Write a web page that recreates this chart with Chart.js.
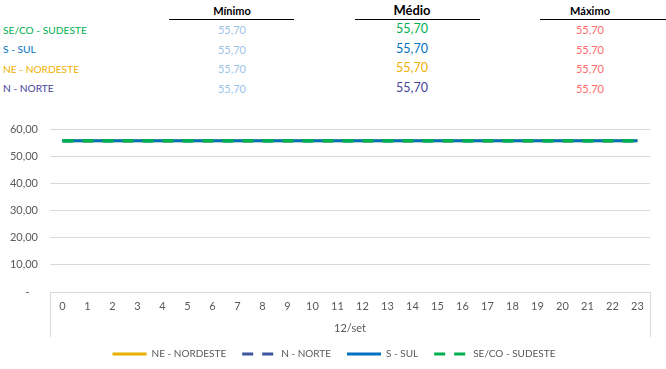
<!DOCTYPE html>
<html>
<head>
<meta charset="utf-8">
<script src="https://cdn.jsdelivr.net/npm/chart.js@4.4.1/dist/chart.umd.min.js"></script>
<style>
  body { margin: 0; background: #fff; font-family: Lato, sans-serif; }
  #page { position: relative; width: 666px; height: 369px; overflow: hidden; }
  .t { position: absolute; white-space: nowrap; line-height: 1; }
  .head { font-weight: bold; color: #000; text-align: center; }
  .rule { position: absolute; height: 1px; background: #000; }
  .num { text-align: center; }
  #box { position: absolute; left: 0; top: 100px; width: 666px; height: 269px; }
</style>
</head>
<body>
<div id="page">
  <div id="table"></div>
  <div id="box"><canvas id="chart"></canvas></div>
</div>
<script>
// table rows (top block)
const rowNames = ["SE/CO - SUDESTE", "S - SUL", "NE - NORDESTE", "N - NORTE"];
const rowColors = ["#00B050", "#0070C0", "#F0B000", "#44449A"];
const minValues = ["55,70", "55,70", "55,70", "55,70"];
const avgValues = ["55,70", "55,70", "55,70", "55,70"];
const maxValues = ["55,70", "55,70", "55,70", "55,70"];

// chart data
const hours = ["0","1","2","3","4","5","6","7","8","9","10","11","12","13","14","15","16","17","18","19","20","21","22","23"];
const dayLabel = "12/set";
const neValues = [55.70,55.70,55.70,55.70,55.70,55.70,55.70,55.70,55.70,55.70,55.70,55.70,55.70,55.70,55.70,55.70,55.70,55.70,55.70,55.70,55.70,55.70,55.70,55.70];
const nValues  = [55.70,55.70,55.70,55.70,55.70,55.70,55.70,55.70,55.70,55.70,55.70,55.70,55.70,55.70,55.70,55.70,55.70,55.70,55.70,55.70,55.70,55.70,55.70,55.70];
const sValues  = [55.70,55.70,55.70,55.70,55.70,55.70,55.70,55.70,55.70,55.70,55.70,55.70,55.70,55.70,55.70,55.70,55.70,55.70,55.70,55.70,55.70,55.70,55.70,55.70];
const seValues = [55.70,55.70,55.70,55.70,55.70,55.70,55.70,55.70,55.70,55.70,55.70,55.70,55.70,55.70,55.70,55.70,55.70,55.70,55.70,55.70,55.70,55.70,55.70,55.70];

// build the table with plain divs
const table = document.getElementById("table");
function addText(txt, x, y, css, cls) {
    const d = document.createElement("div");
    d.className = "t " + (cls || "");
    d.textContent = txt;
    d.style.cssText += css;
    d.style.left = x + "px";
    d.style.top = y + "px";
    table.appendChild(d);
    return d;
}
function addRule(x1, x2, y) {
    const r = document.createElement("div");
    r.className = "rule";
    r.style.left = x1 + "px";
    r.style.width = (x2 - x1) + "px";
    r.style.top = y + "px";
    table.appendChild(r);
}

// columns: center x, rule start/end, header size, value size, value color
const cols = [
    { title: "Mínimo", cx: 232, x1: 169, x2: 294, hs: 11, hy: 10, vs: 11, vals: minValues, color: () => "#9DC3E6" },
    { title: "Médio",  cx: 412, x1: 355, x2: 480, hs: 13, hy: 10, vs: 12.5, vals: avgValues, color: i => rowColors[i] },
    { title: "Máximo", cx: 590, x1: 540, x2: 666, hs: 11, hy: 10, vs: 11, vals: maxValues, color: () => "#FF6B6B" }
];
const rowY = [29.5, 49, 68.5, 88];

cols.forEach(c => {
    addText(c.title, c.cx - 60, c.hy - c.hs / 2, "width:120px;font-size:" + c.hs + "px;", "head");
    addRule(c.x1, c.x2, 19);
    c.vals.forEach((v, i) => {
        addText(v, c.cx - 40, rowY[i] - c.vs / 2, "width:80px;font-size:" + c.vs + "px;color:" + c.color(i) + ";", "num");
    });
});
rowNames.forEach((n, i) => {
    addText(n, 3, rowY[i] - 5, "font-size:10.2px;color:" + rowColors[i] + ";");
});

// the Excel legend sits a bit right of the canvas centre
const nudgeLegend = {
    id: "nudgeLegend",
    afterLayout(chart) {
        chart.legend.left += 9;
        chart.legend.right += 9;
    }
};

const ctx = document.getElementById("chart").getContext("2d");

new Chart(ctx, {
    type: "line",
    data: {
        labels: hours,
        datasets: [
            { label: "NE - NORDESTE", data: neValues, borderColor: "#E8B000", backgroundColor: "#E8B000", borderWidth: 3, order: 4 },
            { label: "N - NORTE", data: nValues, borderColor: "#3F55A0", backgroundColor: "#3F55A0", borderWidth: 3, borderDash: [11, 9], order: 3 },
            { label: "S - SUL", data: sValues, borderColor: "#0070C0", backgroundColor: "#0070C0", borderWidth: 3, order: 2 },
            { label: "SE/CO - SUDESTE", data: seValues, borderColor: "#00B050", backgroundColor: "#00B050", borderWidth: 3.5, borderDash: [11, 9], order: 1 }
        ]
    },
    plugins: [nudgeLegend],
    options: {
        animation: false,
        responsive: true,
        maintainAspectRatio: false,
        elements: { point: { radius: 0 }, line: { tension: 0 } },
        layout: { padding: { top: 29, right: 16, left: 0, bottom: 0 } },
        plugins: {
            tooltip: { enabled: false },
            legend: {
                position: "bottom",
                labels: {
                    usePointStyle: true,
                    pointStyle: "line",
                    pointStyleWidth: 34,
                    boxWidth: 34,
                    padding: 16,
                    color: "#595959",
                    font: { family: "Lato", size: 10 },
                    // keep dataset order and the dashes of each line
                    generateLabels: chart => {
                        const items = Chart.defaults.plugins.legend.labels.generateLabels(chart);
                        items.forEach(it => {
                            const ds = chart.data.datasets[it.datasetIndex];
                            it.lineDash = ds.borderDash || [];
                            it.lineWidth = 3;
                            it.strokeStyle = ds.borderColor;
                        });
                        return items.sort((a, b) => a.datasetIndex - b.datasetIndex);
                    }
                }
            }
        },
        scales: {
            x: {
                offset: true,
                border: { color: "#D9D9D9" },
                grid: {
                    offset: true,
                    drawOnChartArea: false,
                    tickLength: 45,
                    color: c => (c.type === "scale" || c.index === 0) ? "#D9D9D9" : "rgba(0,0,0,0)"
                },
                ticks: { color: "#595959", padding: -37, maxRotation: 0, autoSkip: false, font: { family: "Lato", size: 11 } },
                title: { display: true, text: dayLabel, color: "#595959", padding: { top: 0, bottom: -1.6 }, font: { family: "Lato", size: 11 } },
                afterFit: s => { s.height = 41; }
            },
            y: {
                min: 0,
                max: 60,
                border: { display: false },
                grid: { color: "#D9D9D9", drawTicks: false },
                ticks: {
                    stepSize: 10,
                    padding: 12,
                    color: "#595959",
                    font: { family: "Lato", size: 11 },
                    callback: v => v === 0 ? "-   " : v.toFixed(2).replace(".", ",")
                },
                afterFit: s => { s.width = 50; }
            }
        }
    }
});
</script>
</body>
</html>
